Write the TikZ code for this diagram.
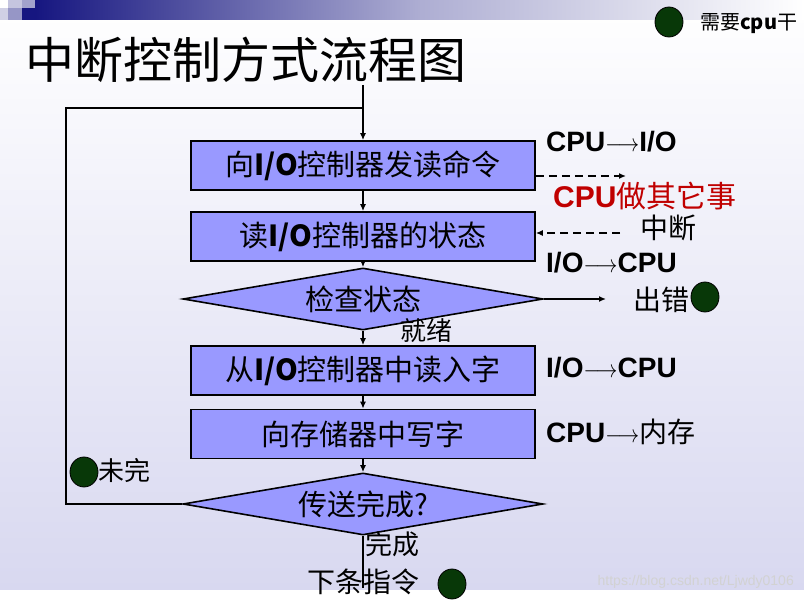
\documentclass[tikz,border=0pt]{standalone}
\usepackage{fontspec}
\usepackage{graphicx}
\setmainfont{Liberation Sans}
\newfontfamily\cjk{Noto Sans CJK SC}
\usetikzlibrary{arrows.meta,positioning,shapes.geometric}

\definecolor{boxblue}{RGB}{153,153,255}
\definecolor{dotgreen}{RGB}{8,56,8}
\definecolor{bannernavy}{RGB}{22,22,128}
\definecolor{paleback}{RGB}{216,216,240}
\definecolor{busyred}{RGB}{192,0,0}

\newcommand{\fsz}[1]{\fontsize{#1}{#1}\selectfont}
\newcommand{\iotxt}{{\bfseries I/O}}
\newcommand{\toarr}{\scalebox{0.85}[1]{$\longrightarrow$}}

\tikzset{
  stepbox/.style={draw, line width=1.6pt, fill=boxblue, minimum width=344pt,
    minimum height=49pt, inner sep=0pt, font=\cjk\fsz{29}},
  testbox/.style={draw, line width=1.6pt, fill=boxblue, diamond, aspect=5.8,
    minimum width=360pt, minimum height=62pt, inner sep=0pt, font=\cjk\fsz{29}},
  flow/.style={line width=1.4pt, -{Latex[length=7pt,width=6pt]}},
  note/.style={anchor=west, inner sep=0pt, font=\fsz{28}},
  gdot/.style={draw, line width=0.8pt, fill=dotgreen, ellipse, minimum width=28pt,
    minimum height=30pt, inner sep=0pt}
}

\begin{document}
\begin{tikzpicture}[x=1pt,y=-1pt]
  \useasboundingbox (0,0) rectangle (804,601);

  % slide background
  \shade[top color=white, bottom color=paleback] (0,0) rectangle (804,590);
  \shade[left color=bannernavy, right color=white, middle color=bannernavy!35] (35,0) rectangle (804,20);
  \fill[bannernavy] (22,8) rectangle (35,20);
  \fill[bannernavy!25] (8,0) rectangle (22,8);
  \fill[bannernavy!40] (22,0) rectangle (35,8);
  \fill[bannernavy!20] (0,8) rectangle (8,20);
  \fill[bannernavy!45] (8,8) rectangle (22,20);

  % title and legend
  \node[anchor=west, inner sep=0pt, font=\cjk\fsz{49}] (title) at (25,60) {中断控制方式流程图};
  \node[gdot] (legenddot) at (669,22) {};
  \node[anchor=west, inner sep=0pt, font=\cjk\fsz{20}] (legend) at (700,24) {需要{\bfseries cpu}干};

  % flow chart
  \node[stepbox] (sendcmd) at (363,165.5) {向\iotxt 控制器发读命令};
  \node[stepbox] (readstat) at (363,236.5) {读\iotxt 控制器的状态};
  \node[testbox] (check) at (363,299) {检查状态};
  \node[stepbox] (readword) at (363,370.5) {从\iotxt 控制器中读入字};
  \node[stepbox] (writemem) at (363,434) {向存储器中写字};
  \node[testbox] (testdone) at (363,504) {传送完成?};

  \coordinate (entry) at (363,85);
  \coordinate (loop) at (66,108);
  \coordinate (errend) at (606,299);
  \coordinate (nextend) at (363,588);
  \coordinate (busy) at (626,176);
  \coordinate (irq) at (620,233);

  \draw[flow] (entry) -- (sendcmd);
  \foreach \a/\b in {sendcmd/readstat, readstat/check, check/readword,
                     readword/writemem, writemem/testdone}
    \draw[flow] (\a) -- (\b);
  \draw[line width=1.4pt] (testdone.west) -| (loop) -- (loop -| sendcmd);
  \draw[flow] (check.east) -- (errend);
  \draw[line width=1.4pt] (testdone.south) -- (nextend);

  % dashed hand-over to the device and back
  \draw[flow, dashed, dash pattern=on 8pt off 5pt] (sendcmd.east |- busy) -- (busy);
  \draw[flow, dashed, dash pattern=on 8pt off 5pt] (irq) -- (irq -| readstat.east);

  % labels on the right
  \node[note, font=\bfseries\fsz{28}] (cpuio) at (546,142) {CPU\toarr I/O};
  \node[note, text=busyred] (cpubusy) at (553,196) {{\bfseries\fsz{30}CPU}{\cjk\fsz{30}做其它事}};
  \node[note, font=\cjk\fsz{28}] (intr) at (640,228) {中断};
  \node[note, font=\bfseries\fsz{28}] (iocpu) at (546,263) {I/O\toarr CPU};
  \node[note, font=\cjk\fsz{28}] (err) at (633,300) {出错};
  \node[gdot] (errdot) at (705,297) {};
  \node[note, font=\bfseries\fsz{28}] (iocpu2) at (546,368) {I/O\toarr CPU};
  \node[note] (cpumem) at (546,432) {{\bfseries CPU}\toarr{\cjk 内存}};

  % labels on the branches
  \node[note, font=\cjk\fsz{26}] (ready) at (400,331) {就绪};
  \node[gdot] (notdot) at (84,472) {};
  \node[note, font=\cjk\fsz{26}] (notdone) at (98,471) {未完};
  \node[note, font=\cjk\fsz{27}] (done) at (365,544) {完成};
  \node[note, font=\cjk\fsz{28}] (nextins) at (307,582) {下条指令};
  \node[gdot] (nextdot) at (452,584) {};

  % site mark
  \node[anchor=east, inner sep=0pt, text=gray!35, font=\fsz{14}] (mark) at (794,582) {https://blog.csdn.net/Ljwdy0106};
\end{tikzpicture}
\end{document}
